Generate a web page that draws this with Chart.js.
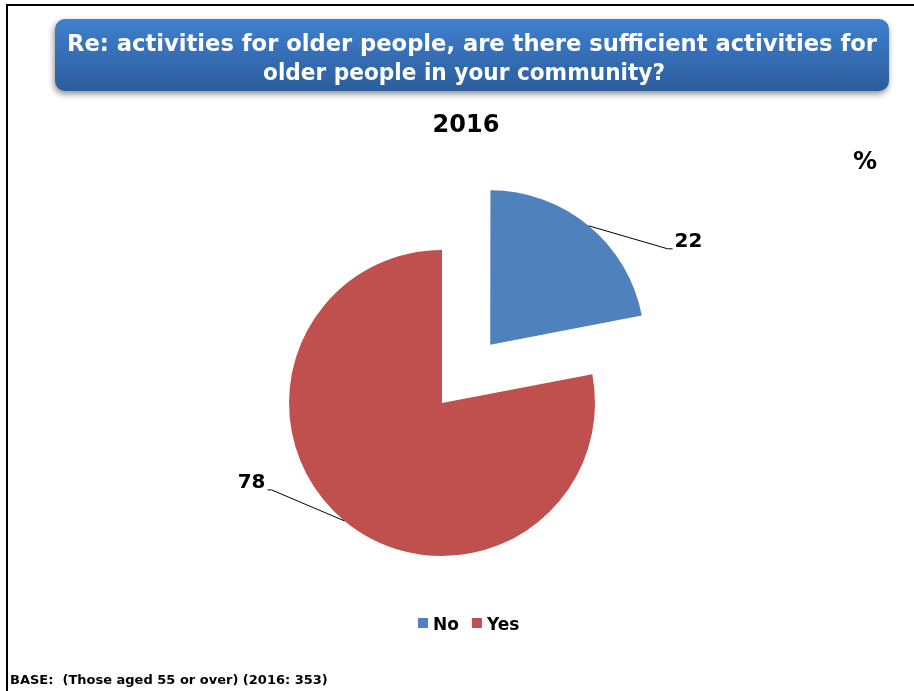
<!DOCTYPE html>
<html>
<head>
<meta charset="utf-8">
<script src="https://cdn.jsdelivr.net/npm/chart.js@4/dist/chart.umd.min.js"></script>
<style>
  html, body { margin: 0; padding: 0; background: #fff; }
  #wrap { position: relative; width: 914px; height: 691px; }
</style>
</head>
<body>
<div id="wrap"><canvas id="pieChart" width="914" height="691"></canvas></div>
<script>
// Duomenys
const categories = ['No', 'Yes'];
const values = [22, 78];
const sliceColors = ['#4f81bd', '#c0504d'];
const titleLines = [
  'Re: activities for older people, are there sufficient activities for',
  'older people in your community?'
];
const yearLabel = '2016';
const unitLabel = '%';
const baseNote = 'BASE:  (Those aged 55 or over) (2016: 353)';

const FONT = '"DejaVu Sans", Verdana, sans-serif';

// Chart.js arc'ą pastumia per offset/4 * (1 + fix), tad norimą poslinkį perskaičiuojam
function arcShift(offset, circumference) {
  const fix = 1 - Math.sin(Math.min(Math.PI, circumference || 0));
  return offset / 4 * (1 + fix);
}
function offsetFor(pixels, value) {
  const circ = value / values.reduce((a, b) => a + b, 0) * Math.PI * 2;
  const fix = 1 - Math.sin(Math.min(Math.PI, circ));
  return pixels * 4 / (1 + fix);
}

// Antraštės juosta, metai, % ir pastaba apačioje
const decorPlugin = {
  id: 'decor',
  beforeDraw(chart) {
    const c = chart.ctx;
    c.save();
    // rėmelis kairėje ir viršuje
    c.fillStyle = '#000';
    c.fillRect(6, 4, 914 - 6, 2);
    c.fillRect(6, 4, 2, 691 - 4);

    // mėlyna juosta su šešėliu
    const x = 55, y = 19, w = 834, h = 72, r = 10;
    c.shadowColor = 'rgba(0,0,0,0.45)';
    c.shadowBlur = 6;
    c.shadowOffsetX = -1;
    c.shadowOffsetY = 3;
    const g = c.createLinearGradient(0, y, 0, y + h);
    g.addColorStop(0, '#3f80cf');
    g.addColorStop(1, '#2c5d9c');
    c.fillStyle = g;
    c.beginPath();
    c.roundRect(x, y, w, h, r);
    c.fill();
    c.shadowColor = 'transparent';

    c.fillStyle = '#fff';
    c.textAlign = 'center';
    c.textBaseline = 'alphabetic';
    c.font = 'bold 23px ' + FONT;
    c.fillText(titleLines[0], 472, 51, 810);
    c.fillText(titleLines[1], 464, 80, 402);

    c.fillStyle = '#000';
    c.font = 'bold 24px ' + FONT;
    c.fillText(yearLabel, 466, 132);
    c.fillText(unitLabel, 865, 169);

    c.textAlign = 'left';
    c.font = 'bold 13px ' + FONT;
    c.fillText(baseNote, 10, 684, 322);
    c.restore();
  }
};

// Reikšmių etiketės su linijomis ir legenda
const labelPlugin = {
  id: 'sliceLabels',
  afterDatasetsDraw(chart) {
    const c = chart.ctx;
    const meta = chart.getDatasetMeta(0);
    // etiketės poslinkis nuo lanko vidurio taško
    const leaders = [
      { dx: 79, dy: 23, tail: 5 },
      { dx: -73, dy: -31, tail: -4 }
    ];
    c.save();
    meta.data.forEach((arc, i) => {
      const p = arc.getProps(['x', 'y', 'startAngle', 'endAngle', 'outerRadius', 'circumference']);
      const mid = (p.startAngle + p.endAngle) / 2;
      const off = arcShift(arc.options.offset || 0, p.circumference);
      const cx = p.x + Math.cos(mid) * off;
      const cy = p.y + Math.sin(mid) * off;
      const sx = cx + Math.cos(mid) * p.outerRadius;
      const sy = cy + Math.sin(mid) * p.outerRadius;
      const L = leaders[i];
      const ex = sx + L.dx, ey = sy + L.dy;
      c.strokeStyle = '#000';
      c.lineWidth = 1;
      c.beginPath();
      c.moveTo(sx, sy);
      c.lineTo(ex, ey);
      c.lineTo(ex + L.tail, ey);
      c.stroke();
      c.fillStyle = '#000';
      c.font = 'bold 20px ' + FONT;
      c.textBaseline = 'middle';
      c.textAlign = L.tail > 0 ? 'left' : 'right';
      c.fillText(String(values[i]), ex + L.tail + (L.tail > 0 ? 2 : -2), ey - 7);
    });

    // legenda
    c.font = 'bold 17px ' + FONT;
    c.textAlign = 'left';
    c.textBaseline = 'alphabetic';
    let lx = 418;
    categories.forEach((name, i) => {
      c.fillStyle = sliceColors[i];
      c.fillRect(lx, 618, 10, 10);
      c.fillStyle = '#000';
      c.fillText(name, lx + 15, 630);
      lx += 15 + c.measureText(name).width + 13;
    });
    c.restore();
  }
};

const ctx = document.getElementById('pieChart').getContext('2d');
const chart = new Chart(ctx, {
  type: 'pie',
  data: {
    labels: categories,
    datasets: [{
      data: values,
      backgroundColor: sliceColors,
      borderWidth: 0,
      offset: [offsetFor(77, values[0]), 0]
    }]
  },
  options: {
    responsive: false,
    animation: false,
    radius: 153,
    rotation: 0,
    layout: { padding: { left: 100, right: 130, top: 215, bottom: 100 } },
    plugins: {
      legend: { display: false },
      title: { display: false },
      tooltip: { enabled: false }
    }
  },
  plugins: [decorPlugin, labelPlugin]
});
</script>
</body>
</html>
